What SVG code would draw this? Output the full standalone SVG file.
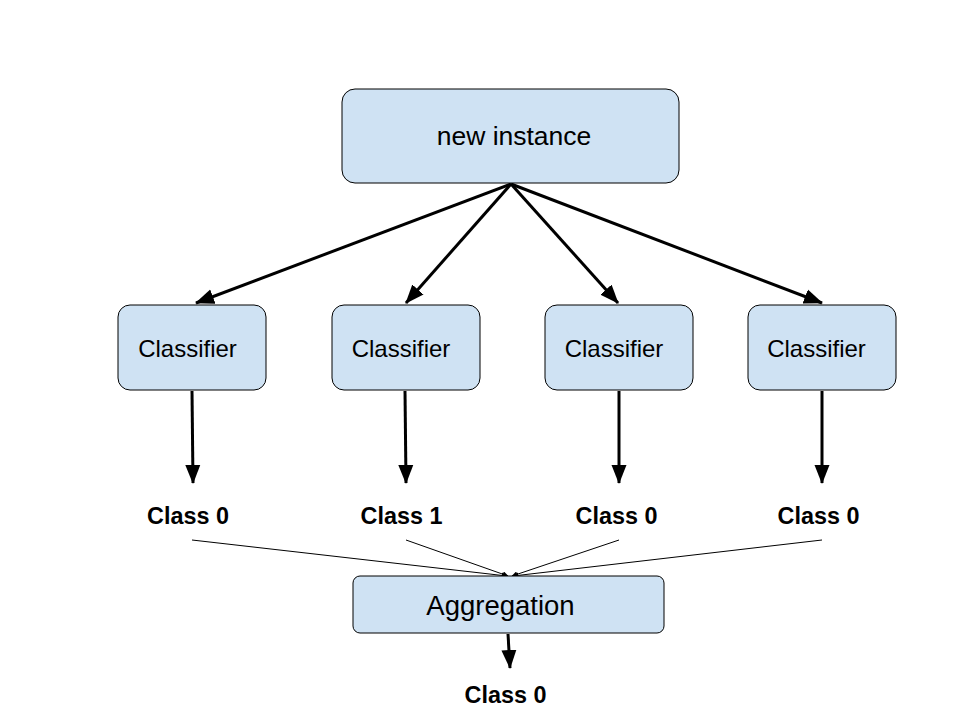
<svg xmlns="http://www.w3.org/2000/svg" width="960" height="720" viewBox="0 0 960 720">
<style>
.box{fill:#cfe2f3;stroke:#000;stroke-width:1}
.t{font-family:"Liberation Sans",Arial,sans-serif;fill:#000;text-anchor:middle}
.b{font-weight:bold;font-size:23.4px}
.thick{stroke:#000;stroke-width:3;fill:none}
.thin{stroke:#000;stroke-width:1;fill:none}
</style>
<defs>
<marker id="ah" viewBox="0 0 20 16" refX="18" refY="8" markerWidth="20" markerHeight="16" markerUnits="userSpaceOnUse" orient="auto"><path d="M0,0.5 L19,8 L0,15.5 z" fill="#000"/></marker>
<marker id="ahs" viewBox="0 0 10 10" refX="9" refY="5" markerWidth="6" markerHeight="6" markerUnits="strokeWidth" orient="auto"><path d="M0,0 L10,5 L0,10 z" fill="#000"/></marker>
</defs>
<rect width="960" height="720" fill="#fff"/>
<g id="connectors">
<line class="thick" x1="511" y1="184" x2="196" y2="303" marker-end="url(#ah)"/>
<line class="thick" x1="511" y1="184" x2="406" y2="303" marker-end="url(#ah)"/>
<line class="thick" x1="511" y1="184" x2="618" y2="303" marker-end="url(#ah)"/>
<line class="thick" x1="511" y1="184" x2="822" y2="303" marker-end="url(#ah)"/>
<line class="thick" x1="192" y1="391" x2="193" y2="483" marker-end="url(#ah)"/>
<line class="thick" x1="405" y1="391" x2="406" y2="483" marker-end="url(#ah)"/>
<line class="thick" x1="619" y1="391" x2="619" y2="483" marker-end="url(#ah)"/>
<line class="thick" x1="822" y1="391" x2="822" y2="483" marker-end="url(#ah)"/>
<line class="thin" x1="192" y1="540" x2="507" y2="576" marker-end="url(#ahs)"/>
<line class="thin" x1="406" y1="540" x2="508" y2="576" marker-end="url(#ahs)"/>
<line class="thin" x1="619" y1="540" x2="512" y2="576" marker-end="url(#ahs)"/>
<line class="thin" x1="822" y1="540" x2="513" y2="576" marker-end="url(#ahs)"/>
<line class="thick" x1="508" y1="634" x2="510" y2="668" marker-end="url(#ah)"/>
</g>
<g id="new-instance">
<rect class="box" x="342" y="89" width="337" height="94" rx="13"/>
<text class="t" x="514" y="145" font-size="26.5">new instance</text>
</g>
<g id="classifier1">
<rect class="box" x="118" y="305" width="148" height="85" rx="12"/>
<text class="t" x="187.5" y="357" font-size="24">Classifier</text>
</g>
<g id="classifier2">
<rect class="box" x="332" y="305" width="148" height="85" rx="12"/>
<text class="t" x="401" y="357" font-size="24">Classifier</text>
</g>
<g id="classifier3">
<rect class="box" x="545" y="305" width="148" height="85" rx="12"/>
<text class="t" x="614" y="357" font-size="24">Classifier</text>
</g>
<g id="classifier4">
<rect class="box" x="748" y="305" width="148" height="85" rx="12"/>
<text class="t" x="816.5" y="357" font-size="24">Classifier</text>
</g>
<g id="class-out1"><text class="t b" x="188" y="524">Class 0</text></g>
<g id="class-out2"><text class="t b" x="401.5" y="524">Class 1</text></g>
<g id="class-out3"><text class="t b" x="616.5" y="524">Class 0</text></g>
<g id="class-out4"><text class="t b" x="818.5" y="524">Class 0</text></g>
<g id="aggregation">
<rect class="box" x="353" y="576" width="311" height="57" rx="7"/>
<text class="t" x="500.5" y="615" font-size="27.5">Aggregation</text>
</g>
<g id="final-class"><text class="t b" x="505.5" y="703">Class 0</text></g>
</svg>
